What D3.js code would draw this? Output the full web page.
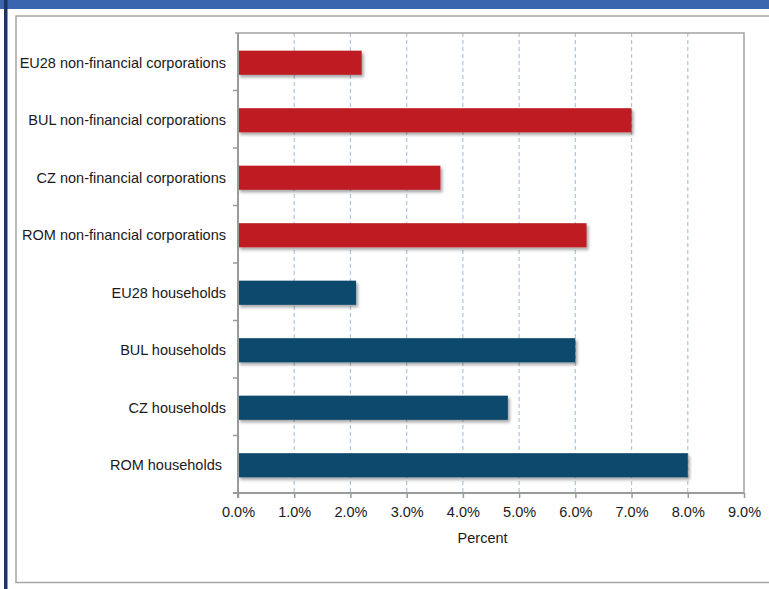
<!DOCTYPE html>
<html>
<head>
<meta charset="utf-8">
<script src="https://cdn.jsdelivr.net/npm/d3@7"></script>
<style>
  html, body { margin: 0; padding: 0; background: #fff; }
  svg { display: block; }
  text { font-family: "Liberation Sans", Arial, Helvetica, sans-serif; fill: #1a1a1a; white-space: pre; }
</style>
</head>
<body>
<svg id="chart" width="769" height="589"></svg>
<script>
// Interest rate spreads by sector and country
const categories = [
  "EU28 non-financial corporations",
  "BUL non-financial corporations",
  "CZ non-financial corporations",
  "ROM non-financial corporations",
  "EU28 households",
  "BUL households",
  "CZ households",
  "ROM households "
];
const values = [2.2, 7.0, 3.6, 6.2, 2.1, 6.0, 4.8, 8.0];
const sectors = ["corp", "corp", "corp", "corp", "hh", "hh", "hh", "hh"];
const xTicks = [0, 1, 2, 3, 4, 5, 6, 7, 8, 9];
const xTitle = "Percent";

const colors = { corp: "#be1e24", hh: "#0e486c" };
const fontSize = 14.5;

const svg = d3.select("#chart");
const W = 769, H = 589;

// page frame: top band, left strip, inner panel border
svg.append("rect").attr("x", 0).attr("y", 0).attr("width", W).attr("height", 9).attr("fill", "#3a66b0");
svg.append("rect").attr("x", 4).attr("y", 0).attr("width", 3.5).attr("height", H).attr("fill", "#1b3462");
svg.append("rect").attr("x", 16).attr("y", 16).attr("width", W + 10).attr("height", 566.5)
  .attr("fill", "none").attr("stroke", "#a6a6a6").attr("stroke-width", 1.5);

const plot = { left: 238, right: 744, top: 33, bottom: 493 };

const x = d3.scaleLinear().domain([0, 9]).range([plot.left, plot.right]);
const y = d3.scaleBand().domain(categories).range([plot.top + 1, plot.bottom + 1]).paddingInner(0.58).paddingOuter(0.29);
const yEdges = d3.scaleBand().domain(categories).range([plot.top, plot.bottom]);

const defs = svg.append("defs");
const f = defs.append("filter").attr("id", "shadow").attr("x", "-5%").attr("y", "-30%").attr("width", "115%").attr("height", "180%");
f.append("feDropShadow").attr("dx", 2).attr("dy", 2.5).attr("stdDeviation", 1.6)
  .attr("flood-color", "#000").attr("flood-opacity", 0.35);

// dashed vertical gridlines
svg.append("g").selectAll("line").data(xTicks.slice(1, -1)).join("line")
  .attr("x1", d => x(d)).attr("x2", d => x(d))
  .attr("y1", plot.top).attr("y2", plot.bottom)
  .attr("stroke", "#a9c6e6").attr("stroke-width", 1.2).attr("stroke-dasharray", "4,3");

// frame top and right
svg.append("path")
  .attr("d", `M${plot.left - 3},${plot.top}H${plot.right}V${plot.bottom}`)
  .attr("fill", "none").attr("stroke", "#a3a3a3").attr("stroke-width", 1.5);

// bars
svg.append("g").selectAll("rect").data(categories).join("rect")
  .attr("x", x(0))
  .attr("y", d => y(d))
  .attr("width", (d, i) => x(values[i]) - x(0))
  .attr("height", y.bandwidth())
  .attr("fill", (d, i) => colors[sectors[i]])
  .attr("filter", "url(#shadow)");

// x axis
const xAxis = d3.axisBottom(x).tickValues(xTicks).tickSize(5).tickPadding(9)
  .tickFormat(d => d3.format(".1f")(d) + "%");
const gx = svg.append("g").attr("transform", `translate(0,${plot.bottom})`).call(xAxis);
gx.select(".domain").attr("d", `M${plot.left - 5},0H${plot.right}`).attr("stroke", "#9a9a9a").attr("stroke-width", 2);
gx.selectAll(".tick line").attr("stroke", "#9a9a9a").attr("stroke-width", 1.5);
gx.selectAll(".tick text").attr("font-size", fontSize).style("fill", "#1a1a1a")
  .attr("font-family", "'Liberation Sans', Arial, sans-serif");

// y axis: line plus ticks at category boundaries
svg.append("line").attr("x1", plot.left).attr("x2", plot.left).attr("y1", plot.top).attr("y2", plot.bottom + 5)
  .attr("stroke", "#9a9a9a").attr("stroke-width", 2);
svg.append("g").selectAll("line").data(categories.slice(1)).join("line")
  .attr("x1", plot.left - 5).attr("x2", plot.left)
  .attr("y1", d => yEdges(d)).attr("y2", d => yEdges(d))
  .attr("stroke", "#9a9a9a").attr("stroke-width", 1.5);

svg.append("g").selectAll("text").data(categories).join("text")
  .attr("x", plot.left - 12)
  .attr("y", d => y(d) + y.bandwidth() / 2)
  .attr("dy", "0.35em")
  .attr("text-anchor", "end")
  .attr("font-size", fontSize)
  .text(d => d);

svg.append("text").attr("x", x(4.35)).attr("y", 543)
  .attr("text-anchor", "middle").attr("font-size", fontSize).text(xTitle);
</script>
</body>
</html>
